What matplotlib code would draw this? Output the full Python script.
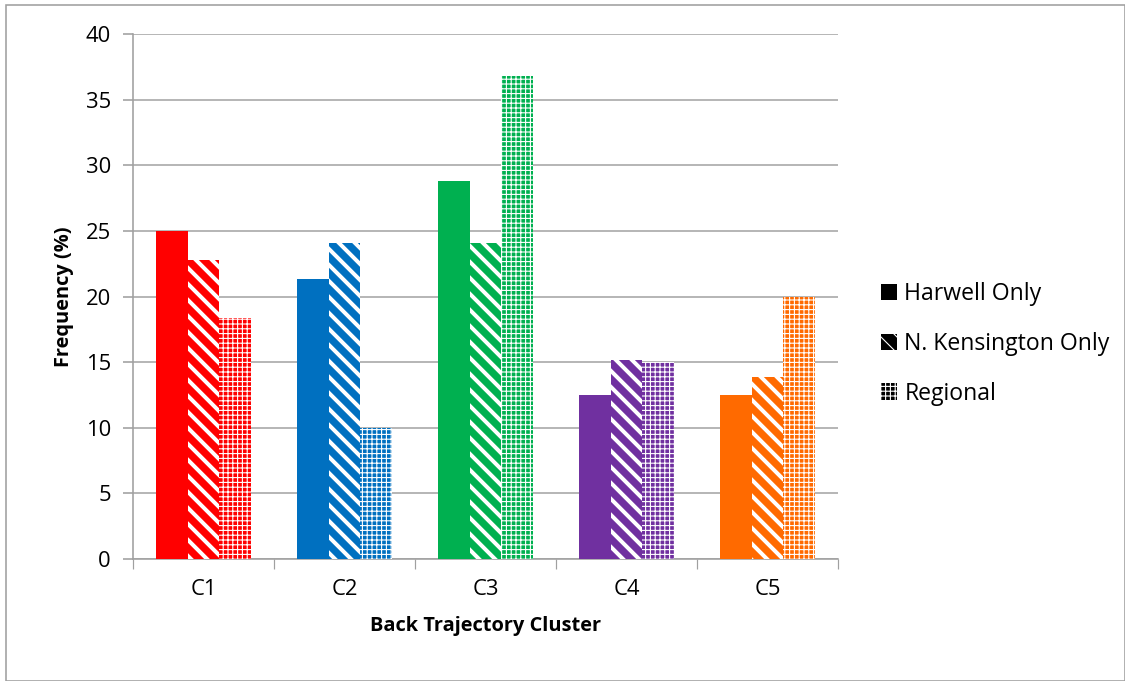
import numpy as np
import matplotlib.pyplot as plt
import matplotlib as mpl
from matplotlib.patches import Patch, Rectangle

clusters = ["C1", "C2", "C3", "C4", "C5"]
harwell = [25.0, 21.3, 28.8, 12.5, 12.5]
kensington = [22.8, 24.1, 24.1, 15.2, 13.9]
regional = [18.4, 10.0, 36.8, 15.0, 20.0]
colors = ["#FF0000", "#0070C0", "#00B050", "#7030A0", "#FF6A00"]
labels = ["Harwell Only", "N. Kensington Only", "Regional"]

plt.rcParams['font.family'] = ['Open Sans', 'DejaVu Sans']

fig = plt.figure(figsize=(1125 / 144, 681 / 144), dpi=144)
ax = fig.add_axes([0.1182, 0.1791, 0.7449 - 0.1182, 0.9501 - 0.1791])

x = np.arange(len(clusters))
w = 0.223

# solid / striped / checkered bars, one colour per cluster
ax.bar(x - w, harwell, w, color=colors, edgecolor=colors, linewidth=0, zorder=3)
mpl.rcParams['hatch.linewidth'] = 2.0
ax.bar(x, kensington, w, color=colors, edgecolor="white", linewidth=0, hatch="\\\\\\", zorder=3)
mpl.rcParams['hatch.linewidth'] = 0.55
ax.bar(x + w, regional, w, color=colors, edgecolor="white", linewidth=0, hatch="+++++", zorder=3)

ax.set_xlim(-0.5, 4.5)
ax.set_ylim(0, 40)
ax.set_yticks(range(0, 41, 5))
ax.set_xticks(x)
ax.set_xticklabels(clusters)
ax.set_xticks(np.arange(-0.5, 5, 1), minor=True)
ax.tick_params(axis="x", which="major", length=0, pad=10, labelsize=11)
ax.tick_params(axis="x", which="minor", length=5, color="#A0A0A0")
ax.tick_params(axis="y", length=5, color="#A0A0A0", labelsize=11, pad=6)
ax.grid(axis="y", color="#A6A6A6", linewidth=0.8, zorder=0)
ax.set_axisbelow(True)
for s in ["top", "right"]:
    ax.spines[s].set_visible(False)
for s in ["left", "bottom"]:
    ax.spines[s].set_color("#A0A0A0")
    ax.spines[s].set_linewidth(0.8)

ax.set_xlabel("Back Trajectory Cluster", fontsize=10, fontweight="bold", labelpad=8)
ax.set_ylabel("Frequency (%)", fontsize=10, fontweight="bold", labelpad=6)

handles = [
    Patch(facecolor="black", edgecolor="black", linewidth=0),
    Patch(facecolor="black", edgecolor="white", linewidth=0, hatch="\\\\\\"),
    Patch(facecolor="black", edgecolor="white", linewidth=0, hatch="+++++"),
]
ax.legend(handles, labels, loc="center left", bbox_to_anchor=(1.032, 0.41), frameon=False,
          fontsize=11.5, handlelength=0.7, handleheight=0.7, handletextpad=0.3, labelspacing=1.12)

fig.add_artist(Rectangle((6 / 1125, 0), 1 - 6 / 1125, 1 - 5 / 681, transform=fig.transFigure,
                         fill=False, edgecolor="#A0A0A0", linewidth=0.8))

fig.savefig("out.png", dpi=144)
